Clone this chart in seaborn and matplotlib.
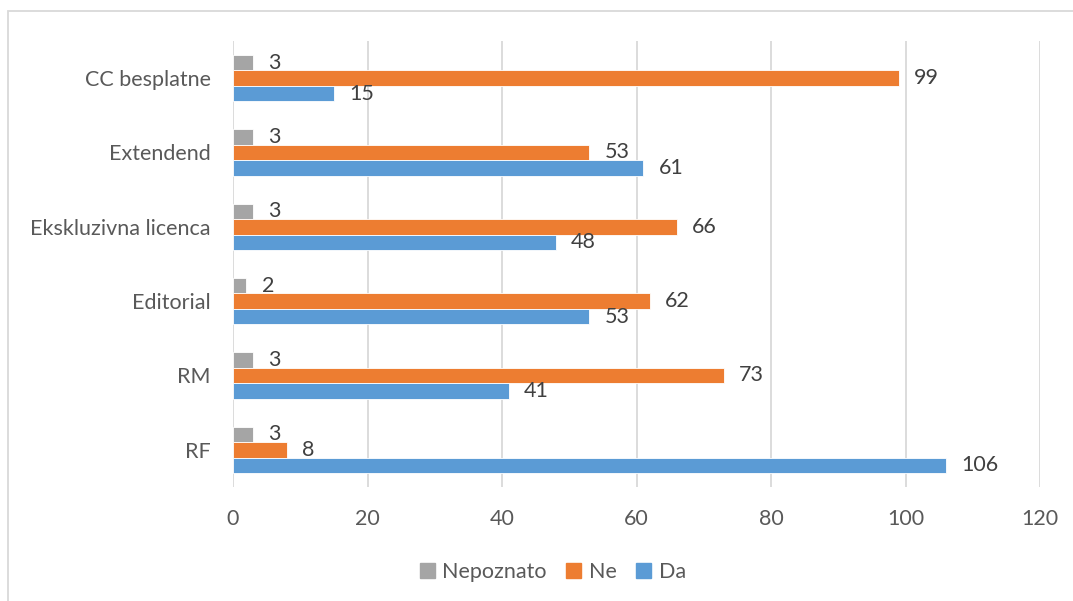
import matplotlib
matplotlib.use("Agg")
import matplotlib.pyplot as plt
import matplotlib.patches as mpatches
import pandas as pd
import seaborn as sns

# Licence types (top to bottom) and answer counts per series
categories = ["CC besplatne", "Extendend", "Ekskluzivna licenca", "Editorial", "RM", "RF"]
series = ["Nepoznato", "Ne", "Da"]
nepoznato = [3, 3, 3, 2, 3, 3]
ne = [99, 53, 66, 62, 73, 8]
da = [15, 61, 48, 53, 41, 106]
x_ticks = [0, 20, 40, 60, 80, 100, 120]

colors = {"Nepoznato": "#A5A5A5", "Ne": "#ED7D31", "Da": "#5B9BD5"}
text_color = "#595959"
grid_color = "#D9D9D9"
fs = 15.5

df = pd.DataFrame({
    "kategorija": categories * 3,
    "serija": ["Nepoznato"] * 6 + ["Ne"] * 6 + ["Da"] * 6,
    "vrijednost": nepoznato + ne + da,
})

sns.set_theme(style="white")
plt.rcParams["font.family"] = ["Lato", "DejaVu Sans"]

fig = plt.figure(figsize=(10.73, 6.01), dpi=100)
ax = fig.add_axes([233 / 1073, 1 - 487 / 601, (1040 - 233) / 1073, (487 - 41) / 601])

sns.barplot(data=df, y="kategorija", x="vrijednost", hue="serija",
            order=categories, hue_order=series, palette=colors, saturation=1,
            orient="h", width=0.62, gap=0, edgecolor="white", linewidth=0.6,
            ax=ax, legend=True)

ax.set_xlim(0, 120)
ax.set_ylim(5.5, -0.5)
ax.set_xticks(x_ticks)
ax.set_xlabel("")
ax.set_ylabel("")
for s in ax.spines.values():
    s.set_visible(False)
ax.grid(axis="x", color=grid_color, linewidth=1.3)
ax.grid(axis="y", visible=False)
ax.set_axisbelow(True)
ax.tick_params(axis="both", length=0, labelsize=fs, colors=text_color, pad=16)

# value labels beside each bar end
for container in ax.containers:
    ax.bar_label(container, labels=[f"{v:g}" for v in container.datavalues],
                 padding=11, fontsize=fs, color="#404040")

# legend below the plot
handles = [mpatches.Patch(color=colors[s]) for s in series]
ax.legend(handles, series, loc="center", bbox_to_anchor=(0.515, (601 - 572) / 601),
          bbox_transform=fig.transFigure, ncol=3, frameon=False, fontsize=fs,
          labelcolor=text_color, handlelength=0.7, handleheight=0.7,
          handletextpad=0.35, columnspacing=0.9)

# chart frame
fig.patches.append(mpatches.Rectangle((8 / 1073, -0.1), 1.2, 1.1 - 11 / 601,
                                      transform=fig.transFigure, fill=False,
                                      edgecolor=grid_color, linewidth=1.3))

fig.savefig("out.png", dpi=100)
